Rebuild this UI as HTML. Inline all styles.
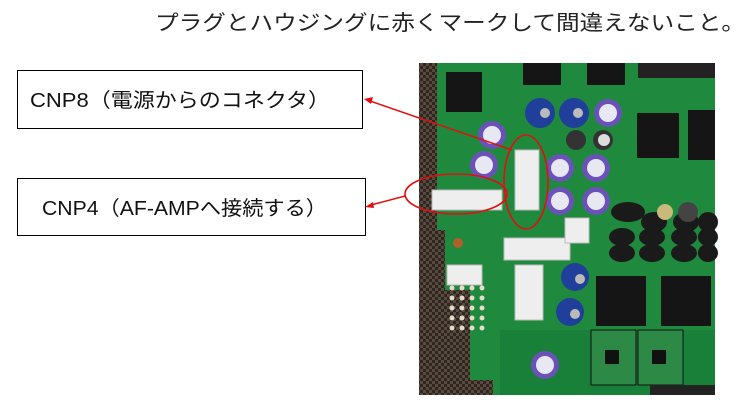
<!DOCTYPE html>
<html><head><meta charset="utf-8"><style>
body{margin:0;width:751px;height:412px;background:#fff;overflow:hidden;font-family:"Liberation Sans","Noto Sans CJK JP",sans-serif}
</style></head><body>
<svg width="751" height="412" viewBox="0 0 751 412" xmlns="http://www.w3.org/2000/svg" font-family="Liberation Sans, Noto Sans CJK JP, sans-serif">
<defs>
<pattern id="mesh" width="6" height="6" patternUnits="userSpaceOnUse">
<rect width="6" height="6" fill="#5a4a3e"/><rect width="3" height="3" fill="#2e2620"/><rect x="3" y="3" width="3" height="3" fill="#2e2620"/>
</pattern>
</defs>
<text x="155" y="30" font-size="21" fill="#222" textLength="590" lengthAdjust="spacingAndGlyphs">プラグとハウジングに赤くマークして間違えないこと。</text>

<rect x="17.5" y="70.5" width="345" height="58" fill="#fff" stroke="#000" stroke-width="1"/>
<text x="30" y="107" font-size="20" fill="#111" textLength="300" lengthAdjust="spacingAndGlyphs">CNP8（電源からのコネクタ）</text>
<rect x="17.5" y="178.5" width="348" height="57" fill="#fff" stroke="#000" stroke-width="1"/>
<text x="42" y="215" font-size="20" fill="#111" textLength="285" lengthAdjust="spacingAndGlyphs">CNP4（AF-AMPへ接続する）</text>

<!-- photo -->
<rect x="419" y="63" width="296" height="332" fill="url(#mesh)"/>
<path d="M437 63 H715 V395 H493 V380 L470 380 L470 290 L445 290 L445 230 L437 230 Z" fill="#1f8a3e"/>
<rect x="500" y="330" width="215" height="65" fill="#188038"/>
<!-- ICs -->
<rect x="446" y="72" width="36" height="40" fill="#151515"/>
<rect x="523" y="63" width="38" height="22" fill="#151515"/>
<rect x="587" y="63" width="38" height="22" fill="#151515"/>
<rect x="638" y="63" width="77" height="15" fill="#222"/>
<rect x="637" y="113" width="42" height="45" fill="#151515"/>
<rect x="688" y="110" width="27" height="50" fill="#151515"/>
<rect x="596" y="276" width="50" height="50" fill="#151515"/>
<rect x="661" y="276" width="50" height="50" fill="#151515"/>
<rect x="591" y="330" width="45" height="55" fill="#2c8a46" stroke="#111"/>
<rect x="638" y="330" width="45" height="55" fill="#2c8a46" stroke="#111"/>
<rect x="605" y="350" width="14" height="14" fill="#111"/>
<rect x="652" y="350" width="14" height="14" fill="#111"/>
<rect x="650" y="385" width="65" height="10" fill="#222"/>
<!-- transistors -->
<g fill="#1a1a1a">
<ellipse cx="628" cy="212" rx="17" ry="10"/><ellipse cx="654" cy="222" rx="13" ry="10"/><ellipse cx="686" cy="222" rx="13" ry="10"/><ellipse cx="708" cy="222" rx="10" ry="10"/>
<ellipse cx="622" cy="237" rx="13" ry="9"/><ellipse cx="652" cy="237" rx="13" ry="9"/><ellipse cx="684" cy="237" rx="13" ry="9"/><ellipse cx="708" cy="237" rx="10" ry="9"/>
<ellipse cx="622" cy="253" rx="13" ry="9"/><ellipse cx="652" cy="253" rx="13" ry="9"/><ellipse cx="684" cy="253" rx="13" ry="9"/><ellipse cx="708" cy="253" rx="10" ry="9"/>
</g>
<!-- caps -->
<g>
<circle cx="492" cy="135" r="14" fill="#6a52b8"/><circle cx="492" cy="135" r="9" fill="#e8e8f2"/>
<circle cx="484" cy="165" r="14" fill="#6a52b8"/><circle cx="484" cy="165" r="9" fill="#e8e8f2"/>
<circle cx="540" cy="113" r="15" fill="#1f3f9a"/><circle cx="545" cy="113" r="5" fill="#bbb"/>
<circle cx="574" cy="113" r="15" fill="#1f3f9a"/><circle cx="578" cy="113" r="5" fill="#bbb"/>
<circle cx="608" cy="113" r="14" fill="#6a52b8"/><circle cx="608" cy="113" r="9" fill="#e8e8f2"/>
<circle cx="560" cy="168" r="14" fill="#6a52b8"/><circle cx="560" cy="168" r="9" fill="#e8e8f2"/>
<circle cx="596" cy="168" r="14" fill="#6a52b8"/><circle cx="596" cy="168" r="9" fill="#e8e8f2"/>
<circle cx="560" cy="201" r="14" fill="#6a52b8"/><circle cx="560" cy="201" r="9" fill="#e8e8f2"/>
<circle cx="596" cy="201" r="14" fill="#6a52b8"/><circle cx="596" cy="201" r="9" fill="#e8e8f2"/>
<circle cx="576" cy="140" r="10" fill="#333"/><circle cx="603" cy="140" r="10" fill="#333"/><circle cx="604" cy="140" r="6" fill="#ddd"/>
<circle cx="575" cy="277" r="14" fill="#1f3f9a"/><circle cx="580" cy="279" r="5" fill="#bbb"/>
<circle cx="570" cy="312" r="14" fill="#1f3f9a"/><circle cx="575" cy="314" r="5" fill="#bbb"/>
<circle cx="545" cy="365" r="14" fill="#6a52b8"/><circle cx="545" cy="365" r="9" fill="#e8e8f2"/>
<circle cx="665" cy="212" r="8" fill="#c9b97a"/><circle cx="688" cy="212" r="10" fill="#444"/>
<circle cx="458" cy="243" r="5" fill="#b0602a"/>
</g>
<!-- connectors -->
<rect x="432" y="190" width="70" height="20" fill="#eee" stroke="#bbb"/>
<rect x="515" y="150" width="24" height="60" fill="#eee" stroke="#bbb"/>
<rect x="504" y="238" width="66" height="22" fill="#eee" stroke="#bbb"/>
<rect x="565" y="218" width="24" height="25" fill="#eee" stroke="#bbb"/>
<rect x="447" y="265" width="35" height="20" fill="#eee" stroke="#bbb"/>
<rect x="515" y="265" width="28" height="55" fill="#eee" stroke="#bbb"/>
<!-- holes -->
<g fill="#e6dccb">
<circle cx="452" cy="288" r="2.5"/><circle cx="462" cy="288" r="2.5"/><circle cx="472" cy="288" r="2.5"/><circle cx="482" cy="288" r="2.5"/>
<circle cx="452" cy="298" r="2.5"/><circle cx="462" cy="298" r="2.5"/><circle cx="472" cy="298" r="2.5"/><circle cx="482" cy="298" r="2.5"/>
<circle cx="452" cy="308" r="2.5"/><circle cx="462" cy="308" r="2.5"/><circle cx="472" cy="308" r="2.5"/><circle cx="482" cy="308" r="2.5"/>
<circle cx="452" cy="318" r="2.5"/><circle cx="462" cy="318" r="2.5"/><circle cx="472" cy="318" r="2.5"/><circle cx="482" cy="318" r="2.5"/>
<circle cx="452" cy="328" r="2.5"/><circle cx="462" cy="328" r="2.5"/><circle cx="472" cy="328" r="2.5"/><circle cx="482" cy="328" r="2.5"/>
</g>
<!-- red marks -->
<ellipse cx="456" cy="194" rx="51" ry="20" fill="none" stroke="#e01010" stroke-width="1.6"/>
<ellipse cx="526" cy="182" rx="22" ry="47" fill="none" stroke="#e01010" stroke-width="1.6"/>
<line x1="512" y1="150" x2="370" y2="101" stroke="#e01010" stroke-width="1.5"/>
<polygon points="364,99 373,97 371,104" fill="#e01010"/>
<line x1="405" y1="196" x2="371" y2="205" stroke="#e01010" stroke-width="1.5"/>
<polygon points="365,207 373,202 374,208" fill="#e01010"/>
</svg>
</body></html>
